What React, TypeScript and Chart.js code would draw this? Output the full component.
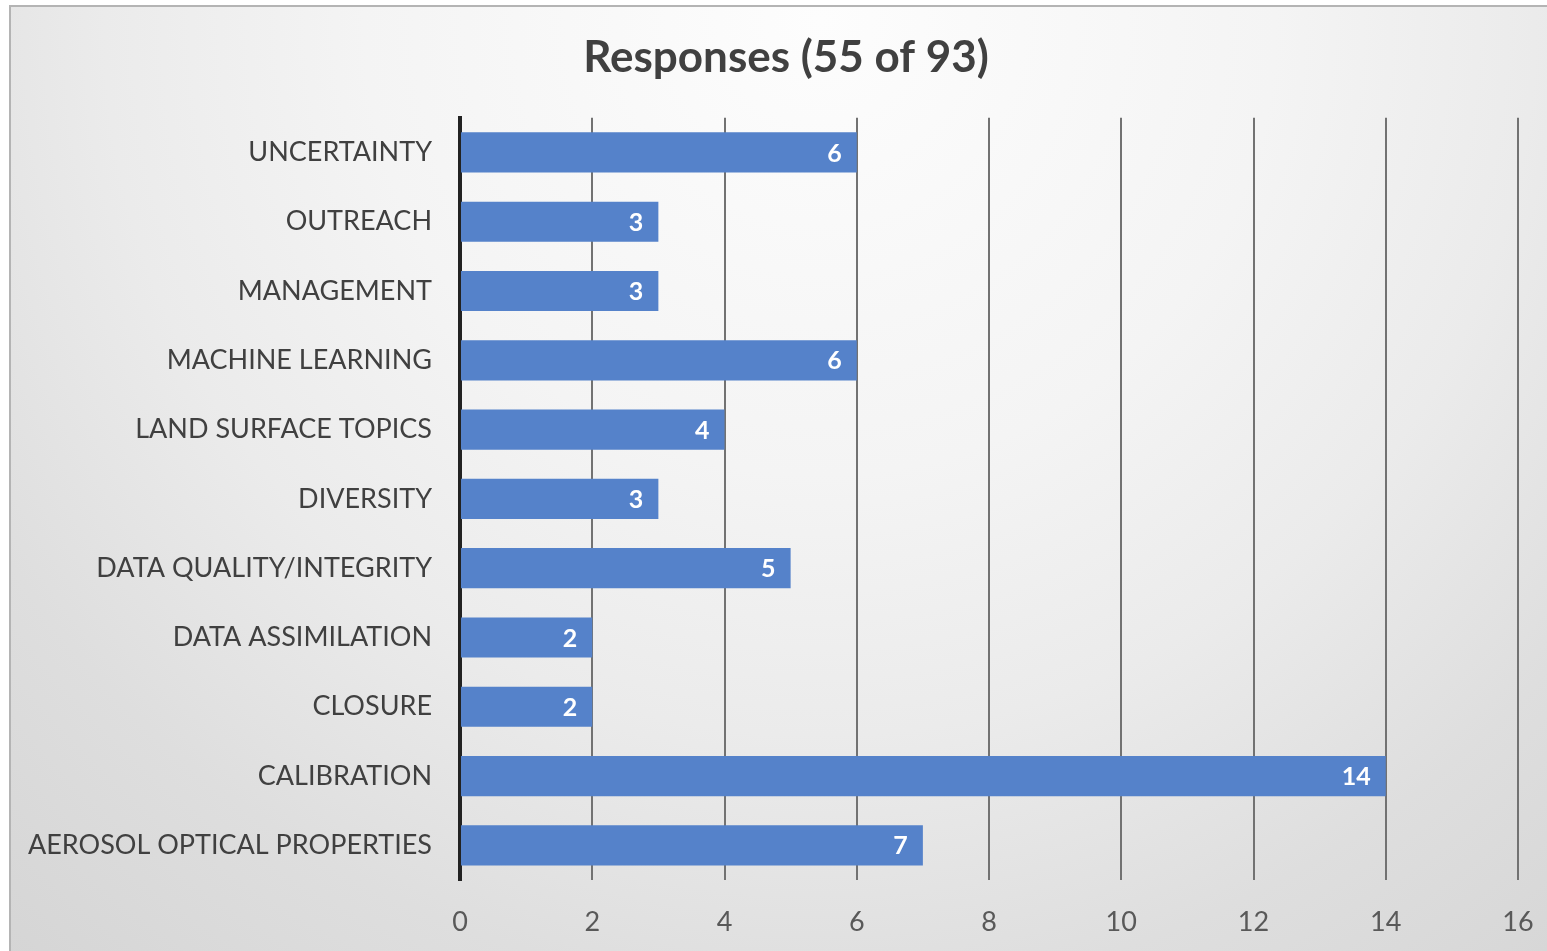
import React, { useEffect, useRef } from "react";
import { Chart, registerables } from "chart.js";

Chart.register(...registerables);

const categories = [
  "UNCERTAINTY",
  "OUTREACH",
  "MANAGEMENT",
  "MACHINE LEARNING",
  "LAND SURFACE TOPICS",
  "DIVERSITY",
  "DATA QUALITY/INTEGRITY",
  "DATA ASSIMILATION",
  "CLOSURE",
  "CALIBRATION",
  "AEROSOL OPTICAL PROPERTIES",
];
const responses = [6, 3, 3, 6, 4, 3, 5, 2, 2, 14, 7];
const titleText = "Responses (55 of 93)";
const xMin = 0;
const xMax = 16;
const xStep = 2;

const W = 1547;
const H = 951;
const FONT = "Lato, 'Liberation Sans', sans-serif";

const backgroundPlugin = {
  id: "bgPlugin",
  afterLayout(chart: any) {
    // widen the label clipping area of the category axis to the frame edge
    const y = chart.scales.y;
    if (y) y.left = 10;
  },
  beforeDraw(chart: any) {
    const ctx = chart.ctx;
    ctx.save();
    ctx.fillStyle = "#ffffff";
    ctx.fillRect(0, 0, chart.width, chart.height);
    const g = ctx.createRadialGradient(820, 20, 0, 820, 20, 1300);
    g.addColorStop(0, "#fdfdfd");
    g.addColorStop(0.35, "#f4f4f4");
    g.addColorStop(0.55, "#ebebeb");
    g.addColorStop(0.75, "#dedede");
    g.addColorStop(1, "#d3d3d3");
    ctx.fillStyle = g;
    ctx.fillRect(10, 6, chart.width - 10, chart.height - 6);
    ctx.strokeStyle = "#b4b4b4";
    ctx.lineWidth = 2;
    ctx.beginPath();
    ctx.moveTo(10, chart.height);
    ctx.lineTo(10, 6);
    ctx.lineTo(chart.width, 6);
    ctx.stroke();
    ctx.restore();
  },
};

const valueLabelPlugin = {
  id: "valueLabels",
  afterDatasetsDraw(chart: any) {
    const ctx = chart.ctx;
    const meta = chart.getDatasetMeta(0);
    const data = chart.data.datasets[0].data;
    ctx.save();
    ctx.fillStyle = "#ffffff";
    ctx.font = `bold 25px ${FONT}`;
    ctx.textAlign = "right";
    ctx.textBaseline = "middle";
    meta.data.forEach((bar: any, i: number) => {
      ctx.fillText(String(data[i]), bar.x - 15, bar.y + 1);
    });
    ctx.restore();
  },
};

export default function App() {
  const canvasRef = useRef<HTMLCanvasElement | null>(null);

  useEffect(() => {
    if (!canvasRef.current) return;
    const chart = new Chart(canvasRef.current, {
      type: "bar",
      data: {
        labels: categories,
        datasets: [
          {
            label: "Responses",
            data: responses,
            backgroundColor: "#5582ca",
            borderWidth: 0,
            barPercentage: 0.58,
            categoryPercentage: 1,
          },
        ],
      },
      options: {
        indexAxis: "y",
        responsive: false,
        animation: false,
        layout: { padding: { left: 54, right: 29, top: 0, bottom: 0 } },
        plugins: {
          legend: { display: false },
          tooltip: { enabled: false },
          title: {
            display: true,
            text: titleText,
            color: "#404040",
            font: { family: FONT, size: 44, weight: "bold" },
            padding: { top: 31, bottom: 34 },
          },
        },
        scales: {
          x: {
            min: xMin,
            max: xMax,
            position: "bottom",
            ticks: {
              stepSize: xStep,
              color: "#595959",
              font: { family: FONT, size: 27 },
              padding: 26,
            },
            grid: {
              color: "#727272",
              lineWidth: 2,
              drawTicks: false,
            },
            border: { display: false },
            afterFit(scale: any) {
              scale.height = H - 880;
              scale.paddingLeft = 0;
              scale.paddingRight = 0;
            },
          },
          y: {
            ticks: {
              color: "#404040",
              font: { family: FONT, size: 27 },
              padding: 28,
            },
            grid: { display: false, drawTicks: false },
            border: { display: true, color: "#222222", width: 4 },
            afterFit(scale: any) {
              scale.width = 460 - 54;
              scale.paddingTop = 0;
              scale.paddingBottom = 0;
            },
          },
        },
      },
      plugins: [backgroundPlugin, valueLabelPlugin],
    });
    return () => chart.destroy();
  }, []);

  return (
    <div style={{ position: "fixed", left: 0, top: 0, width: W, height: H }}>
      <canvas ref={canvasRef} width={W} height={H} />
    </div>
  );
}
